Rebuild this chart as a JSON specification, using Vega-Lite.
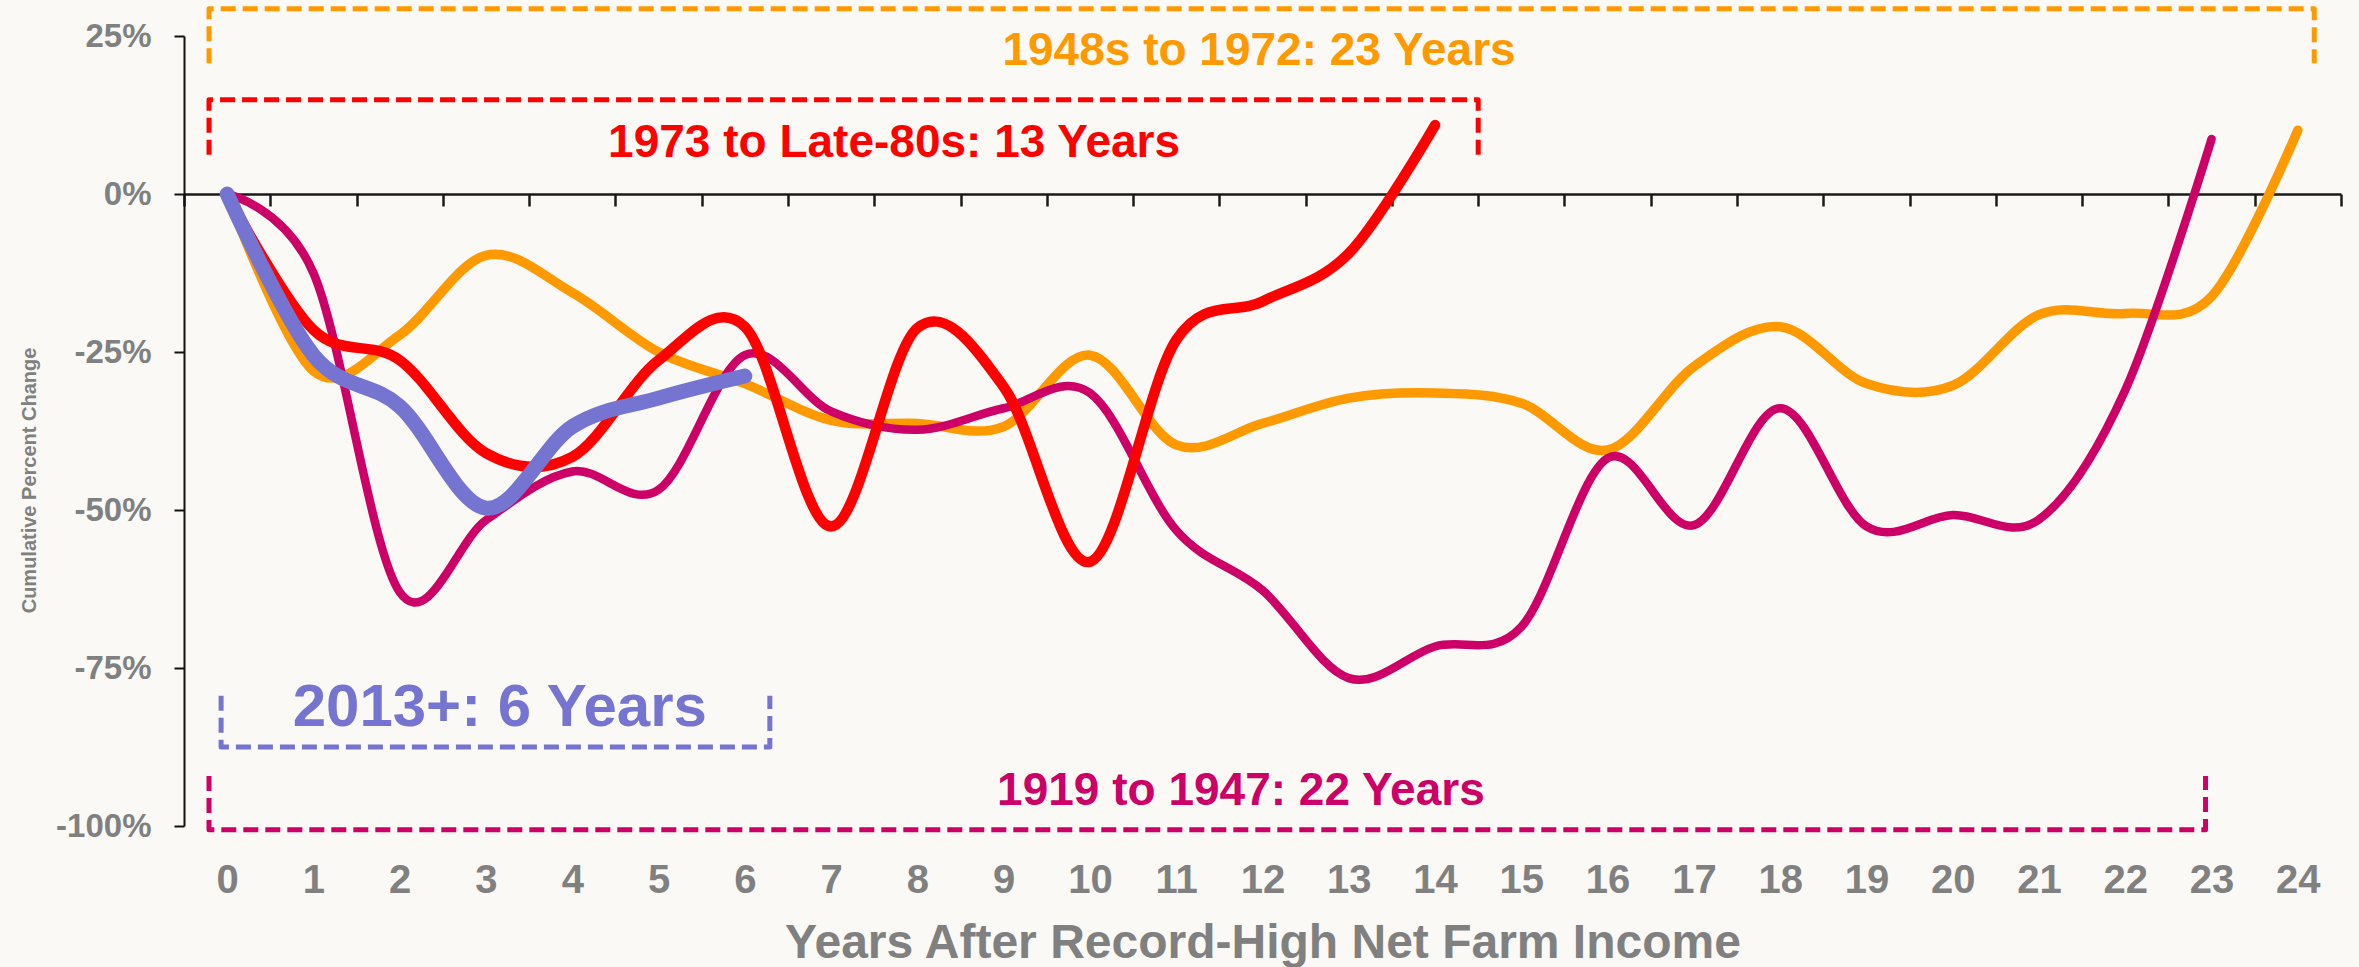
{
  "$schema": "https://vega.github.io/schema/vega-lite/v6.json",
  "width": 2157,
  "height": 790,
  "autosize": "none",
  "padding": {"left": 184, "top": 36, "right": 18, "bottom": 141},
  "background": "#FAF9F5",
  "config": {"view": {"stroke": null}, "font": "Liberation Sans"},
  "datasets": {
    "lines": [
      {"series": "1948s to 1972", "year": 0, "pct": 0},
      {"series": "1948s to 1972", "year": 1, "pct": -28},
      {"series": "1948s to 1972", "year": 2, "pct": -22.3},
      {"series": "1948s to 1972", "year": 3, "pct": -9.7},
      {"series": "1948s to 1972", "year": 4, "pct": -15.6},
      {"series": "1948s to 1972", "year": 5, "pct": -25},
      {"series": "1948s to 1972", "year": 6, "pct": -30},
      {"series": "1948s to 1972", "year": 7, "pct": -35.8},
      {"series": "1948s to 1972", "year": 8, "pct": -36.3},
      {"series": "1948s to 1972", "year": 9, "pct": -36.8},
      {"series": "1948s to 1972", "year": 10, "pct": -25.5},
      {"series": "1948s to 1972", "year": 11, "pct": -39.7},
      {"series": "1948s to 1972", "year": 12, "pct": -36.3},
      {"series": "1948s to 1972", "year": 13, "pct": -32.3},
      {"series": "1948s to 1972", "year": 14, "pct": -31.5},
      {"series": "1948s to 1972", "year": 15, "pct": -33.1},
      {"series": "1948s to 1972", "year": 16, "pct": -40.5},
      {"series": "1948s to 1972", "year": 17, "pct": -27.3},
      {"series": "1948s to 1972", "year": 18, "pct": -21},
      {"series": "1948s to 1972", "year": 19, "pct": -30},
      {"series": "1948s to 1972", "year": 20, "pct": -30.3},
      {"series": "1948s to 1972", "year": 21, "pct": -19.1},
      {"series": "1948s to 1972", "year": 22, "pct": -18.9},
      {"series": "1948s to 1972", "year": 23, "pct": -16.2},
      {"series": "1948s to 1972", "year": 24, "pct": 10.1},
      {"series": "1919 to 1947", "year": 0, "pct": 0},
      {"series": "1919 to 1947", "year": 1, "pct": -12.5},
      {"series": "1919 to 1947", "year": 2, "pct": -63},
      {"series": "1919 to 1947", "year": 3, "pct": -51.6},
      {"series": "1919 to 1947", "year": 4, "pct": -43.9},
      {"series": "1919 to 1947", "year": 5, "pct": -46.8},
      {"series": "1919 to 1947", "year": 6, "pct": -25.5},
      {"series": "1919 to 1947", "year": 7, "pct": -34.4},
      {"series": "1919 to 1947", "year": 8, "pct": -37.3},
      {"series": "1919 to 1947", "year": 9, "pct": -33.9},
      {"series": "1919 to 1947", "year": 10, "pct": -31.5},
      {"series": "1919 to 1947", "year": 11, "pct": -53.2},
      {"series": "1919 to 1947", "year": 12, "pct": -62.7},
      {"series": "1919 to 1947", "year": 13, "pct": -76.6},
      {"series": "1919 to 1947", "year": 14, "pct": -71.6},
      {"series": "1919 to 1947", "year": 15, "pct": -68.5},
      {"series": "1919 to 1947", "year": 16, "pct": -41.8},
      {"series": "1919 to 1947", "year": 17, "pct": -52.4},
      {"series": "1919 to 1947", "year": 18, "pct": -33.9},
      {"series": "1919 to 1947", "year": 19, "pct": -52.6},
      {"series": "1919 to 1947", "year": 20, "pct": -50.8},
      {"series": "1919 to 1947", "year": 21, "pct": -51.5},
      {"series": "1919 to 1947", "year": 22, "pct": -31},
      {"series": "1919 to 1947", "year": 23, "pct": 8.7},
      {"series": "1973 to Late-80s", "year": 0, "pct": 0},
      {"series": "1973 to Late-80s", "year": 1, "pct": -21.5},
      {"series": "1973 to Late-80s", "year": 2, "pct": -26.3},
      {"series": "1973 to Late-80s", "year": 3, "pct": -41},
      {"series": "1973 to Late-80s", "year": 4, "pct": -41.6},
      {"series": "1973 to Late-80s", "year": 5, "pct": -26.3},
      {"series": "1973 to Late-80s", "year": 6, "pct": -21},
      {"series": "1973 to Late-80s", "year": 7, "pct": -52.6},
      {"series": "1973 to Late-80s", "year": 8, "pct": -21.2},
      {"series": "1973 to Late-80s", "year": 9, "pct": -30.5},
      {"series": "1973 to Late-80s", "year": 10, "pct": -58.2},
      {"series": "1973 to Late-80s", "year": 11, "pct": -23.1},
      {"series": "1973 to Late-80s", "year": 12, "pct": -17},
      {"series": "1973 to Late-80s", "year": 13, "pct": -9.4},
      {"series": "1973 to Late-80s", "year": 14, "pct": 10.9},
      {"series": "2013+", "year": 0, "pct": 0},
      {"series": "2013+", "year": 1, "pct": -25.5},
      {"series": "2013+", "year": 2, "pct": -33.6},
      {"series": "2013+", "year": 3, "pct": -49.7},
      {"series": "2013+", "year": 4, "pct": -36.8},
      {"series": "2013+", "year": 5, "pct": -32.3},
      {"series": "2013+", "year": 6, "pct": -28.8}
    ],
    "brackets": [
      {"series": "1948s to 1972", "k": 0, "bx": -0.21, "by": 20.7},
      {"series": "1948s to 1972", "k": 1, "bx": -0.21, "by": 29.3},
      {"series": "1948s to 1972", "k": 2, "bx": 24.19, "by": 29.3},
      {"series": "1948s to 1972", "k": 3, "bx": 24.19, "by": 20.7},
      {"series": "1973 to Late-80s", "k": 0, "bx": -0.21, "by": 6.2},
      {"series": "1973 to Late-80s", "k": 1, "bx": -0.21, "by": 14.9},
      {"series": "1973 to Late-80s", "k": 2, "bx": 14.5, "by": 14.9},
      {"series": "1973 to Late-80s", "k": 3, "bx": 14.5, "by": 6.2},
      {"series": "2013+", "k": 0, "bx": -0.07, "by": -79.4},
      {"series": "2013+", "k": 1, "bx": -0.07, "by": -87.5},
      {"series": "2013+", "k": 2, "bx": 6.29, "by": -87.5},
      {"series": "2013+", "k": 3, "bx": 6.29, "by": -79.4},
      {"series": "1919 to 1947", "k": 0, "bx": -0.21, "by": -92.1},
      {"series": "1919 to 1947", "k": 1, "bx": -0.21, "by": -100.6},
      {"series": "1919 to 1947", "k": 2, "bx": 22.93, "by": -100.6},
      {"series": "1919 to 1947", "k": 3, "bx": 22.93, "by": -92.1}
    ],
    "labels": [
      {"series": "1948s to 1972", "lx": 11.96, "ly": 20.4, "label": "1948s to 1972: 23 Years"},
      {"series": "1973 to Late-80s", "lx": 7.73, "ly": 5.9, "label": "1973 to Late-80s: 13 Years"},
      {"series": "1919 to 1947", "lx": 11.75, "ly": -96.7, "label": "1919 to 1947: 22 Years"},
      {"series": "2013+", "lx": 3.16, "ly": -84.2, "label": "2013+: 6 Years"}
    ]
  },
  "resolve": {"axis": {"x": "independent"}},
  "layer": [
    {
      "data": {"name": "brackets"},
      "mark": {"type": "line", "strokeWidth": 5, "strokeDash": [15, 7], "strokeJoin": "round"},
      "encoding": {
        "x": {"field": "bx", "type": "quantitative", "scale": {"domain": [-0.5, 24.5], "nice": false, "zero": false},
          "axis": {"orient": "bottom", "offset": -632, "values": [-0.5, 0.5, 1.5, 2.5, 3.5, 4.5, 5.5, 6.5, 7.5, 8.5, 9.5, 10.5, 11.5, 12.5, 13.5, 14.5, 15.5, 16.5, 17.5, 18.5, 19.5, 20.5, 21.5, 22.5, 23.5, 24.5],
            "labels": false, "grid": false, "title": null, "domainColor": "#1a1a1a", "domainWidth": 2.5, "tickColor": "#1a1a1a", "tickWidth": 2.5, "tickSize": 12}},
        "y": {"field": "by", "type": "quantitative", "scale": {"domain": [-100, 25], "nice": false, "zero": false},
          "axis": {"values": [-100, -75, -50, -25, 0, 25], "labelExpr": "datum.value + '%'", "grid": false,
            "domainColor": "#111", "domainWidth": 2, "tickColor": "#111", "tickWidth": 2, "tickSize": 10, "labelPadding": 23,
            "labelFont": "Liberation Sans", "labelFontWeight": "bold", "labelFontSize": 33, "labelColor": "#808080",
            "title": "Cumulative Percent Change", "titleFont": "Liberation Sans", "titleFontSize": 20, "titleFontWeight": "bold",
            "titleColor": "#808080", "titleX": -149, "titleY": 444, "titleBaseline": "alphabetic", "titleAngle": 270}},
        "detail": {"field": "series"},
        "order": {"field": "k"},
        "color": {"field": "series", "type": "nominal", "legend": null,
          "scale": {"domain": ["1948s to 1972", "1973 to Late-80s", "1919 to 1947", "2013+"], "range": ["#FF9900", "#FF0000", "#CC0066", "#7575D1"]}}
      }
    },
    {
      "data": {"name": "lines"},
      "transform": [{"filter": "datum.series === '1948s to 1972'"}],
      "mark": {"type": "line", "interpolate": "cardinal", "tension": 0, "strokeWidth": 9.5, "strokeCap": "round", "strokeJoin": "round"},
      "encoding": {
        "x": {"field": "year", "type": "quantitative", "scale": {"domain": [-0.5, 24.5], "nice": false, "zero": false},
          "axis": {"orient": "bottom", "values": [0, 1, 2, 3, 4, 5, 6, 7, 8, 9, 10, 11, 12, 13, 14, 15, 16, 17, 18, 19, 20, 21, 22, 23, 24], "format": "d",
            "ticks": false, "tickSize": 0, "domain": false, "grid": false, "labelPadding": 34, "labelFlush": false, "labelOverlap": false,
            "labelFont": "Liberation Sans", "labelFontWeight": "bold", "labelFontSize": 40, "labelColor": "#808080",
            "title": "Years After Record-High Net Farm Income", "titleFont": "Liberation Sans", "titleFontSize": 48, "titleFontWeight": "bold",
            "titleColor": "#808080", "titleY": 131, "titleBaseline": "alphabetic"}},
        "y": {"field": "pct", "type": "quantitative", "scale": {"domain": [-100, 25], "nice": false, "zero": false}},
        "color": {"field": "series", "type": "nominal", "legend": null,
          "scale": {"domain": ["1948s to 1972", "1973 to Late-80s", "1919 to 1947", "2013+"], "range": ["#FF9900", "#FF0000", "#CC0066", "#7575D1"]}}
      }
    },
    {
      "data": {"name": "lines"},
      "transform": [{"filter": "datum.series === '1919 to 1947'"}],
      "mark": {"type": "line", "interpolate": "cardinal", "tension": 0, "strokeWidth": 8.5, "strokeCap": "round", "strokeJoin": "round"},
      "encoding": {
        "x": {"field": "year", "type": "quantitative", "scale": {"domain": [-0.5, 24.5], "nice": false, "zero": false}, "axis": null},
        "y": {"field": "pct", "type": "quantitative", "scale": {"domain": [-100, 25], "nice": false, "zero": false}},
        "color": {"field": "series", "type": "nominal", "legend": null,
          "scale": {"domain": ["1948s to 1972", "1973 to Late-80s", "1919 to 1947", "2013+"], "range": ["#FF9900", "#FF0000", "#CC0066", "#7575D1"]}}
      }
    },
    {
      "data": {"name": "lines"},
      "transform": [{"filter": "datum.series === '1973 to Late-80s'"}],
      "mark": {"type": "line", "interpolate": "cardinal", "tension": 0, "strokeWidth": 10.5, "strokeCap": "round", "strokeJoin": "round"},
      "encoding": {
        "x": {"field": "year", "type": "quantitative", "scale": {"domain": [-0.5, 24.5], "nice": false, "zero": false}, "axis": null},
        "y": {"field": "pct", "type": "quantitative", "scale": {"domain": [-100, 25], "nice": false, "zero": false}},
        "color": {"field": "series", "type": "nominal", "legend": null,
          "scale": {"domain": ["1948s to 1972", "1973 to Late-80s", "1919 to 1947", "2013+"], "range": ["#FF9900", "#FF0000", "#CC0066", "#7575D1"]}}
      }
    },
    {
      "data": {"name": "lines"},
      "transform": [{"filter": "datum.series === '2013+'"}],
      "mark": {"type": "line", "interpolate": "cardinal", "tension": 0, "strokeWidth": 15, "strokeCap": "round", "strokeJoin": "round"},
      "encoding": {
        "x": {"field": "year", "type": "quantitative", "scale": {"domain": [-0.5, 24.5], "nice": false, "zero": false}, "axis": null},
        "y": {"field": "pct", "type": "quantitative", "scale": {"domain": [-100, 25], "nice": false, "zero": false}},
        "color": {"field": "series", "type": "nominal", "legend": null,
          "scale": {"domain": ["1948s to 1972", "1973 to Late-80s", "1919 to 1947", "2013+"], "range": ["#FF9900", "#FF0000", "#CC0066", "#7575D1"]}}
      }
    },
    {
      "data": {"name": "labels"},
      "transform": [{"filter": "datum.series !== '2013+'"}],
      "mark": {"type": "text", "font": "Liberation Sans", "fontWeight": "bold", "fontSize": 46, "align": "center", "baseline": "alphabetic"},
      "encoding": {
        "x": {"field": "lx", "type": "quantitative", "scale": {"domain": [-0.5, 24.5], "nice": false, "zero": false}, "axis": null},
        "y": {"field": "ly", "type": "quantitative", "scale": {"domain": [-100, 25], "nice": false, "zero": false}},
        "text": {"field": "label"},
        "color": {"field": "series", "type": "nominal", "legend": null,
          "scale": {"domain": ["1948s to 1972", "1973 to Late-80s", "1919 to 1947", "2013+"], "range": ["#FF9900", "#FF0000", "#CC0066", "#7575D1"]}}
      }
    },
    {
      "data": {"name": "labels"},
      "transform": [{"filter": "datum.series === '2013+'"}],
      "mark": {"type": "text", "font": "Liberation Sans", "fontWeight": "bold", "fontSize": 60, "align": "center", "baseline": "alphabetic"},
      "encoding": {
        "x": {"field": "lx", "type": "quantitative", "scale": {"domain": [-0.5, 24.5], "nice": false, "zero": false}, "axis": null},
        "y": {"field": "ly", "type": "quantitative", "scale": {"domain": [-100, 25], "nice": false, "zero": false}},
        "text": {"field": "label"},
        "color": {"field": "series", "type": "nominal", "legend": null,
          "scale": {"domain": ["1948s to 1972", "1973 to Late-80s", "1919 to 1947", "2013+"], "range": ["#FF9900", "#FF0000", "#CC0066", "#7575D1"]}}
      }
    }
  ]
}
